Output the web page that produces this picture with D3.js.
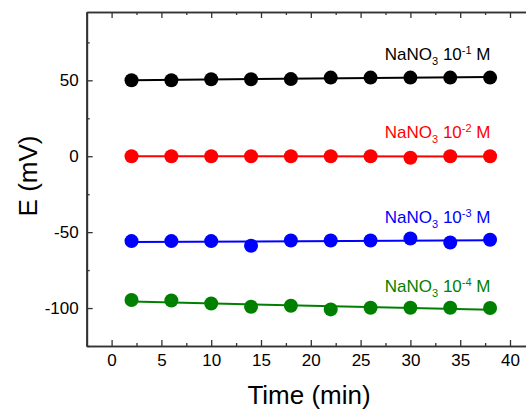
<!DOCTYPE html>
<html><head><meta charset="utf-8">
<script src="https://cdn.jsdelivr.net/npm/d3@7"></script>
<style>
html,body{margin:0;padding:0;background:#fff;overflow:hidden;}
svg{display:block;font-family:"Liberation Sans",Arial,sans-serif;}
</style></head>
<body><svg id="c" width="526" height="410"></svg>
<script>
const times = [2, 6, 10, 14, 18, 22, 26, 30, 34, 38];
const e1 = [50, 50, 50.7, 50.7, 50.8, 51.8, 51.8, 51.8, 51.8, 51.8];
const e2 = [0, 0, 0, 0, 0, 0, 0, -1, 0, 0];
const e3 = [-55.9, -55.9, -55.9, -59, -55.5, -55.5, -55.5, -54.2, -56.8, -55];
const e4 = [-94.7, -95, -97, -99.1, -98.5, -100.9, -99.8, -99.8, -99.8, -100];
const seriesNames = ["NaNO3 10-1 M", "NaNO3 10-2 M", "NaNO3 10-3 M", "NaNO3 10-4 M"];
const exponents = ["-1", "-2", "-3", "-4"];
const colors = ["#000000", "#ff0000", "#0000ff", "#008000"];
const xTicks = [0, 5, 10, 15, 20, 25, 30, 35, 40];
const yTicks = [-100, -50, 0, 50];
const xTitle = "Time (min)";
const yTitle = "E (mV)";

const series = [e1, e2, e3, e4];
const svg = d3.select("#c");
const L = 86.7, T = 12, B = 346;
const x = d3.scaleLinear().domain([-2.5, 42.5]).range([L, L + 45 * 9.96]);
const y = d3.scaleLinear().domain([-125, 95]).range([B, T]);

// data
series.forEach((vals, i) => {
  const pts = times.map((t, j) => [t, vals[j]]);
  const mx = d3.mean(pts, d => d[0]), my = d3.mean(pts, d => d[1]);
  const sxy = d3.sum(pts, d => (d[0] - mx) * (d[1] - my));
  const sxx = d3.sum(pts, d => (d[0] - mx) ** 2);
  const b = sxy / sxx, a = my - b * mx;
  const ext = d3.extent(times);
  svg.append("path")
    .attr("d", d3.line().x(d => x(d[0])).y(d => y(d[1]))(ext.map(t => [t, a + b * t])))
    .attr("stroke", colors[i]).attr("stroke-width", 2).attr("fill", "none");
  svg.append("g").selectAll("circle").data(pts).join("circle")
    .attr("cx", d => x(d[0])).attr("cy", d => y(d[1])).attr("r", 7)
    .attr("fill", colors[i]);
});

// labels
const labelY = [59.5, 137.5, 222.5, 292];
series.forEach((vals, i) => {
  const t = svg.append("text").attr("x", 490.5).attr("y", labelY[i])
    .attr("text-anchor", "end").attr("fill", colors[i]).attr("font-size", 17);
  t.append("tspan").text("NaNO");
  t.append("tspan").attr("font-size", 11).attr("dy", 5).text("3");
  t.append("tspan").attr("dy", -5).text(" 10");
  t.append("tspan").attr("font-size", 11).attr("dy", -6).text(exponents[i]);
  t.append("tspan").attr("dy", 6).text(" M");
});

// axes
const axColor = "#333";
const fmt = v => String(v);
const xMinor = d3.range(-2.5, 43, 2.5).filter(v => v % 5 !== 0);
const yMinor = d3.range(-125, 95, 25).filter(v => v % 50 !== 0);
const gBottom = svg.append("g").attr("transform", `translate(0,${B})`)
  .call(d3.axisBottom(x).tickValues(xTicks).tickFormat(fmt).tickSizeInner(-6).tickSizeOuter(0).tickPadding(8));
const gBottomMinor = svg.append("g").attr("transform", `translate(0,${B})`)
  .call(d3.axisBottom(x).tickValues(xMinor).tickSizeInner(-3).tickSizeOuter(0).tickFormat(""));
const gTop = svg.append("g").attr("transform", `translate(0,${T})`)
  .call(d3.axisTop(x).tickValues(xTicks).tickSizeInner(-6).tickSizeOuter(0).tickFormat(""));
const gTopMinor = svg.append("g").attr("transform", `translate(0,${T})`)
  .call(d3.axisTop(x).tickValues(xMinor).tickSizeInner(-3).tickSizeOuter(0).tickFormat(""));
const gLeft = svg.append("g").attr("transform", `translate(${L},0)`)
  .call(d3.axisLeft(y).tickValues(yTicks).tickFormat(fmt).tickSizeInner(-6).tickSizeOuter(0).tickPadding(8));
const gLeftMinor = svg.append("g").attr("transform", `translate(${L},0)`)
  .call(d3.axisLeft(y).tickValues(yMinor).tickSizeInner(-3).tickSizeOuter(0).tickFormat(""));
[gBottom, gBottomMinor, gTop, gTopMinor, gLeft, gLeftMinor].forEach(g => {
  g.select(".domain").attr("stroke", axColor).attr("stroke-width", 1.6);
  g.selectAll(".tick line").attr("stroke", axColor).attr("stroke-width", 1.3);
  g.selectAll(".tick text").attr("font-size", 17).attr("fill", "#000")
    .attr("font-family", "Liberation Sans, Arial, sans-serif");
});
gLeft.select(".domain").attr("stroke-width", 2);

svg.append("text").attr("x", 309).attr("y", 404).attr("text-anchor", "middle")
  .attr("font-size", 26).attr("fill", "#000").text(xTitle);
svg.append("text").attr("transform", "translate(37,176) rotate(-90)")
  .attr("text-anchor", "middle").attr("font-size", 26).attr("fill", "#000").text(yTitle);
</script></body></html>
